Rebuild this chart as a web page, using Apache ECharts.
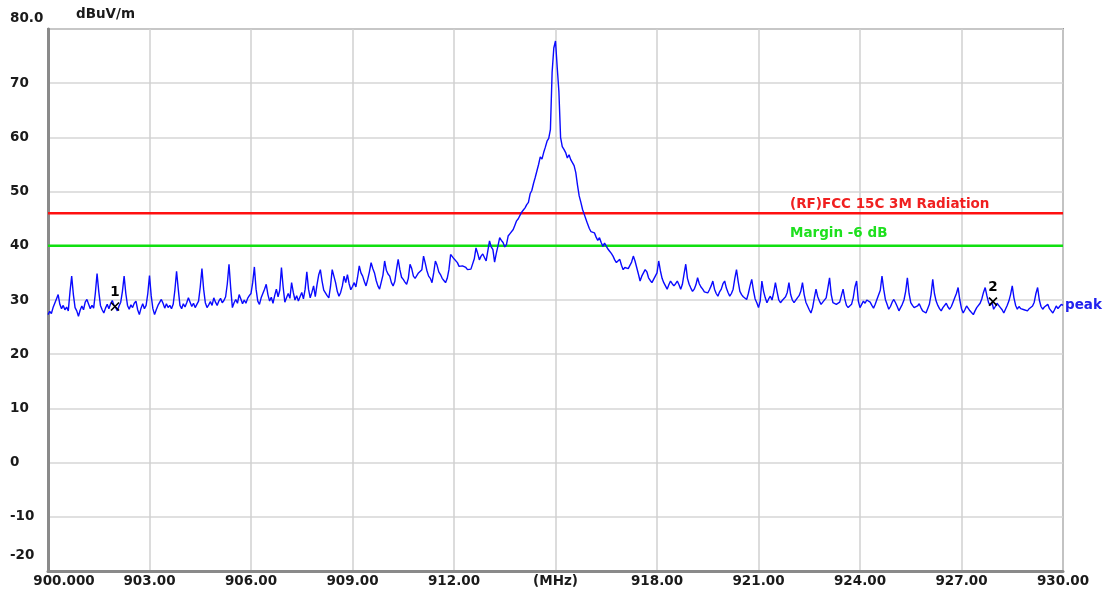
<!DOCTYPE html>
<html>
<head>
<meta charset="utf-8">
<script src="https://cdn.jsdelivr.net/npm/echarts@6.0.0/dist/echarts.min.js"></script>
<style>
html,body{margin:0;padding:0;background:#fff;}
#chart{width:1113px;height:594px;}
</style>
</head>
<body>
<div id="chart"></div>
<script>
// ---- data ----
const freqStart = 900;      // MHz
const freqStep = 0.05;      // MHz between trace samples
// peak trace, dBuV/m, one row per MHz (20 samples each)
const traceLevels = [
  27.3,27.9,27.5,28.6,29.4,30.2,31.0,29.2,28.4,29.0,28.2,28.7,28.0,31.5,34.4,31.0,28.6,28.0,27.0,28.1,
  28.9,28.2,29.6,30.1,29.8,28.4,29.0,28.5,31.3,34.9,31.6,29.0,28.2,27.6,28.5,29.2,28.4,29.3,29.9,29.0,
  28.6,28.0,28.9,29.6,31.6,34.4,31.2,29.0,28.3,29.1,28.6,29.4,29.8,28.2,27.3,28.5,29.3,28.4,29.0,31.2,
  34.5,30.8,28.4,27.3,28.2,29.0,28.7,30.1,29.4,28.5,29.3,28.6,29.0,28.4,29.2,31.8,35.3,32.0,29.0,28.4,
  29.3,28.7,29.5,30.4,29.6,28.8,29.4,28.6,29.2,29.8,32.4,35.8,32.0,29.5,28.6,29.1,29.7,29.0,30.4,29.6,
  29.0,29.8,30.3,29.5,29.9,30.6,33.0,36.6,32.2,28.6,29.5,30.1,29.4,31.0,30.2,29.3,30.0,29.4,30.3,30.8,
  31.2,33.2,36.1,32.0,29.8,29.2,30.4,31.2,32.0,32.9,31.0,29.8,30.5,29.4,30.8,32.0,30.6,31.8,36.0,32.4,
  29.6,30.4,31.2,30.3,33.2,31.4,30.0,30.8,29.8,30.6,31.4,30.2,32.0,35.2,32.0,30.4,31.4,32.6,30.6,32.8,
  34.6,35.6,33.5,31.8,31.3,30.8,30.4,32.5,35.6,34.4,33.2,31.6,30.7,31.4,32.6,34.4,33.2,34.7,33.0,31.9,
  32.5,33.2,32.4,34.2,36.3,35.0,34.4,33.4,32.6,33.8,35.2,36.9,35.8,35.0,33.6,32.6,32.0,31.9,34.6,37.2,
  35.5,34.8,34.4,33.2,32.6,33.4,35.6,37.5,35.6,34.2,33.8,33.3,32.9,34.0,36.6,35.8,34.4,34.0,33.8,35.0,
  34.8,35.6,38.1,36.8,35.4,34.4,34.0,33.2,35.0,37.2,36.4,35.2,34.7,34.0,33.6,33.2,34.0,35.6,38.4,38.0,
  37.6,37.5,36.9,36.2,35.9,36.3,36.6,36.0,35.6,35.8,35.7,35.9,37.6,39.6,38.6,37.4,38.1,38.5,38.7,37.2,
  36.9,40.9,39.8,39.3,37.0,38.6,40.0,41.5,41.0,40.6,39.8,40.2,41.8,42.2,42.5,43.0,43.8,44.6,45.0,45.6,
  46.2,46.6,47.0,47.6,48.0,49.6,50.2,51.5,52.6,53.8,55.0,56.4,56.0,57.2,58.2,59.3,59.8,61.5,72.0,76.5,
  77.8,73.0,68.5,60.0,58.3,57.8,57.2,56.2,56.8,55.9,56.0,54.8,53.5,51.2,49.2,48.0,46.7,45.8,44.9,44.0,
  43.2,42.6,42.8,42.4,41.6,41.0,41.5,40.6,39.9,40.5,40.3,39.4,39.0,38.6,38.1,37.4,36.9,37.2,37.5,36.4,
  35.6,36.0,36.3,35.8,35.6,37.0,38.1,37.2,36.9,34.8,33.5,34.4,35.0,35.6,35.2,34.1,33.6,33.2,33.8,34.4,
  35.0,37.2,35.4,34.0,33.2,32.6,32.0,32.8,33.5,33.0,32.6,33.0,33.5,32.8,32.0,32.9,34.8,36.6,34.0,32.9,
  32.2,31.6,32.0,32.8,34.1,33.0,32.4,32.0,31.5,31.8,31.3,31.9,32.6,33.5,32.0,31.2,30.7,31.5,32.0,33.0,
  33.5,32.2,31.4,30.7,31.2,32.0,34.0,35.6,33.4,31.6,31.0,30.6,30.4,30.1,31.2,32.6,33.8,31.8,30.2,29.5,
  28.6,29.8,33.5,31.6,30.4,29.5,30.2,30.7,30.0,31.4,33.2,31.5,30.0,29.5,29.9,30.1,30.6,31.4,33.2,31.0,
  30.0,29.5,29.8,30.4,30.8,31.6,33.2,31.0,29.6,28.9,28.2,27.6,28.6,30.4,32.0,30.6,29.8,29.2,29.6,29.8,
  30.4,32.2,34.1,31.0,29.5,29.8,29.2,28.9,29.6,30.8,32.0,30.2,29.0,28.6,28.9,29.2,30.4,32.4,33.5,29.8,
  28.6,29.2,29.8,29.4,30.0,30.2,29.6,29.0,28.5,29.2,30.1,30.4,31.8,34.4,32.0,30.1,29.2,28.3,28.8,29.6,
  30.1,29.5,28.8,28.0,28.6,29.2,30.0,31.6,34.1,31.2,29.5,29.0,28.6,28.3,28.9,29.3,28.6,28.0,27.8,27.6,
  28.4,29.2,31.0,33.8,31.2,29.8,29.0,28.4,28.0,28.6,28.9,29.4,28.7,28.3,28.8,29.6,30.4,31.2,32.3,30.0,
  28.4,27.6,28.2,28.9,28.6,28.0,27.8,27.3,28.0,28.6,28.9,29.4,30.2,31.4,32.3,30.8,29.5,29.0,29.6,28.3,
  28.8,29.4,29.2,28.6,28.2,27.6,28.3,29.0,29.8,31.0,32.6,30.4,29.0,28.3,28.8,28.4,28.6,28.2,28.5,28.0,
  28.4,28.6,28.9,29.6,31.2,32.3,30.0,28.8,28.3,28.7,29.0,29.2,28.4,28.0,27.6,28.2,28.9,28.4,28.8,29.2,
  29.0
];
const limitLevel = 46;          // (RF)FCC 15C 3M Radiation
const marginLevel = 40;         // Margin -6 dB
const limitName = '(RF)FCC 15C 3M Radiation';
const marginName = 'Margin -6 dB';
const lineLabelFreq = 921.93;   // where the limit-line captions start
const markerFreqs = [901.98, 927.93];
const markerLevels = [28.8, 29.7];
const markerNames = ['1', '2'];
const traceName = 'peak';
const xTickLabels = ['900.000','903.00','906.00','909.00','912.00','(MHz)','918.00','921.00','924.00','927.00','930.00'];
const yTickLabels = ['-20','-10','0','10','20','30','40','50','60','70','80.0'];
const yUnit = 'dBuV/m';

// ---- build ----
const FONT = 'DejaVu Sans';
const tracePoints = traceLevels.map((v, i) => [+(freqStart + i * freqStep).toFixed(2), v]);
const fontBase = {fontFamily: FONT, fontWeight: 'bold', fontSize: 13.5, color: '#1a1a1a', lineHeight: 16};

const chart = echarts.init(document.getElementById('chart'), null, {renderer: 'canvas'});
chart.setOption({
  animation: false,
  backgroundColor: '#ffffff',
  grid: {left: 48, top: 29, right: 50, bottom: 23, show: true, borderColor: '#9a9a9a', borderWidth: 2,
    backgroundColor: '#ffffff', containLabel: false, outerBoundsMode: 'none'},
  graphic: [{
    type: 'text', left: 76, top: 7, silent: true,
    style: {text: yUnit, fill: '#1a1a1a', font: 'bold 13.5px "DejaVu Sans"'}
  }],
  xAxis: {
    type: 'value', min: 900, max: 930, interval: 3,
    axisLine: {show: true, onZero: false, lineStyle: {color: '#8a8a8a', width: 3}},
    axisTick: {show: false},
    splitLine: {show: true, lineStyle: {color: '#d0d0d0', width: 1.5}},
    axisLabel: Object.assign({}, fontBase, {
      margin: 2, showMinLabel: true, showMaxLabel: true,
      formatter: function (v) {
        const i = Math.round((v - 900) / 3);
        const t = xTickLabels[i];
        if (i === 0) return '{first|' + t + '}';
        return t;
      },
      rich: {first: Object.assign({}, fontBase, {padding: [0, 0, 0, 32]})}
    })
  },
  yAxis: {
    type: 'value', min: -20, max: 80, interval: 10,
    axisLine: {show: true, onZero: false, lineStyle: {color: '#8a8a8a', width: 3}},
    axisTick: {show: false},
    splitLine: {show: true, lineStyle: {color: '#d6d6d6', width: 1.5}},
    axisLabel: Object.assign({}, fontBase, {
      margin: 38, align: 'left', showMinLabel: true, showMaxLabel: true,
      formatter: function (v) {
        const i = Math.round((v + 20) / 10);
        const t = yTickLabels[i];
        if (i === 10) return '{top|' + t + '}';
        if (i === 0) return '{bot|' + t + '}';
        return t;
      },
      rich: {
        top: Object.assign({}, fontBase, {padding: [0, 0, 22, 0]}),
        bot: Object.assign({}, fontBase, {padding: [0, 0, 32, 0]})
      }
    })
  },
  series: [
    {
      name: limitName, type: 'line', z: 2,
      symbol: 'circle', symbolSize: 0, showSymbol: true,
      lineStyle: {color: '#ff1010', width: 2.5},
      data: [[900, limitLevel], {value: [lineLabelFreq, limitLevel], label: {show: true}}, [930, limitLevel]],
      label: {show: false, position: 'top', align: 'left', distance: 2, formatter: limitName,
        fontFamily: FONT, fontWeight: 'bold', fontSize: 13.5, color: '#f02020'},
      silent: true
    },
    {
      name: marginName, type: 'line', z: 2,
      symbol: 'circle', symbolSize: 0, showSymbol: true,
      lineStyle: {color: '#10e010', width: 2.5},
      data: [[900, marginLevel], {value: [lineLabelFreq, marginLevel], label: {show: true}}, [930, marginLevel]],
      label: {show: false, position: 'top', align: 'left', distance: 5, formatter: marginName,
        fontFamily: FONT, fontWeight: 'bold', fontSize: 13.5, color: '#1ee01e'},
      silent: true
    },
    {
      name: traceName, type: 'line', z: 3,
      showSymbol: false, symbol: 'none',
      lineStyle: {color: '#0a0aff', width: 1.4},
      data: tracePoints,
      endLabel: {show: true, formatter: traceName, distance: 2,
        fontFamily: FONT, fontWeight: 'bold', fontSize: 13.5, color: '#2222ee'},
      silent: true
    },
    {
      name: 'markers', type: 'scatter', z: 4,
      symbol: 'path://M0,0L10,10M10,0L0,10', symbolSize: 8,
      itemStyle: {color: 'rgba(0,0,0,0)', borderColor: '#000', borderWidth: 1.6, opacity: 1},
      data: markerFreqs.map((f, i) => ({value: [f, markerLevels[i]], name: markerNames[i]})),
      label: {show: true, position: 'top', distance: 2, formatter: p => p.name,
        fontFamily: FONT, fontWeight: 'bold', fontSize: 13.5, color: '#000', opacity: 1},
      silent: true
    }
  ]
});
</script>
</body>
</html>
